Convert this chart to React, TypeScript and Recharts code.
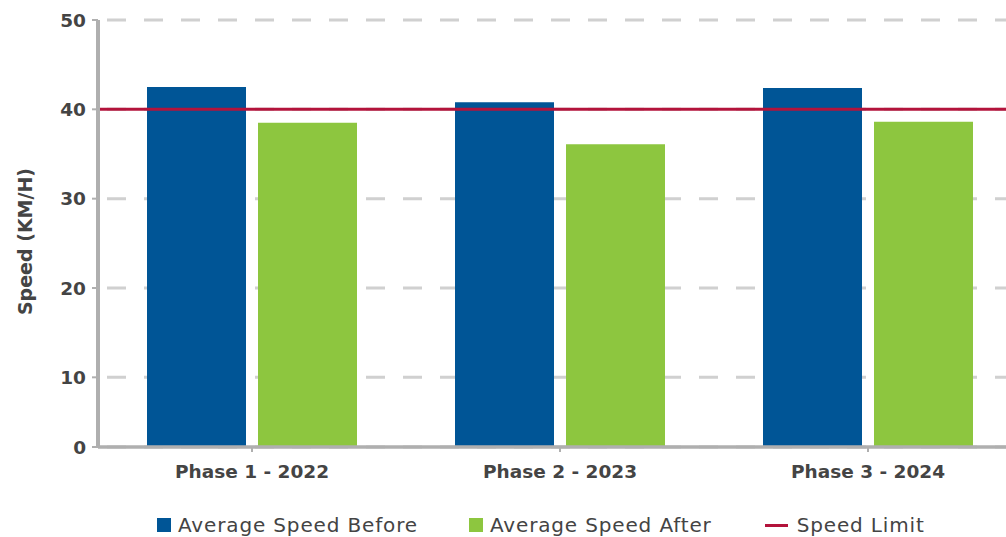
import React from "react";
import { BarChart, Bar, XAxis, YAxis, CartesianGrid, ReferenceLine, Legend } from "recharts";

const categories = ["Phase 1 - 2022", "Phase 2 - 2023", "Phase 3 - 2024"];
const speedBefore = [42.5, 40.8, 42.4];
const speedAfter = [38.5, 36.1, 38.6];
const speedLimit = 40;
const yTickValues = [2.2, 10, 20, 30, 40, 50];
const yTickLabels = ["0", "10", "20", "30", "40", "50"];
const seriesNames = ["Average Speed Before", "Average Speed After", "Speed Limit"];

const BLUE = "#005596";
const GREEN = "#8DC63F";
const RED = "#B3133B";
const TEXT = "#444444";
const FONT = "'DejaVu Sans', sans-serif";

const data = categories.map((c, i) => ({ name: c, before: speedBefore[i], after: speedAfter[i] }));

const LegendContent = () => (
  <div style={{ display: "flex", alignItems: "center", marginLeft: 157, paddingTop: 16, fontFamily: FONT, fontSize: 20, letterSpacing: 0.85, color: TEXT, height: 24 }}>
    <div style={{ display: "flex", alignItems: "center", marginRight: 51 }}>
      <span style={{ width: 14, height: 14, background: BLUE, display: "inline-block", marginRight: 7 }} />
      <span>{seriesNames[0]}</span>
    </div>
    <div style={{ display: "flex", alignItems: "center", marginRight: 53 }}>
      <span style={{ width: 14, height: 14, background: GREEN, display: "inline-block", marginRight: 7 }} />
      <span>{seriesNames[1]}</span>
    </div>
    <div style={{ display: "flex", alignItems: "center" }}>
      <span style={{ width: 23, height: 3, background: RED, display: "inline-block", marginRight: 9 }} />
      <span>{seriesNames[2]}</span>
    </div>
  </div>
);

const YLabel = (props: any) => {
  const vb = props.viewBox || {};
  const cy = (vb.y || 0) + (vb.height || 0) / 2 + 8;
  return (
    <text x={25} y={cy} transform={`rotate(-90, 25, ${cy})`} textAnchor="middle" dominantBaseline="central"
      fontFamily={FONT} fontWeight={700} fontSize={19} fill={TEXT}>
      Speed (KM/H)
    </text>
  );
};

export default function App() {
  return (
    <div style={{ position: "absolute", left: 0, top: 0, width: 1006, height: 537, overflow: "hidden", background: "#fff" }}>
      <BarChart width={1030} height={537} data={data} margin={{ top: 20, right: 8, left: 0, bottom: 0 }} barGap={12}>
        <CartesianGrid vertical={false} stroke="#D0D0D0" strokeWidth={3} strokeDasharray="0 9 19 9" />
        <XAxis dataKey="name" height={50} axisLine={{ stroke: "#AFAFAF", strokeWidth: 3.5 }}
          tickLine={{ stroke: "#AFAFAF", strokeWidth: 2 }} tickSize={5} tickMargin={13}
          tick={{ fill: TEXT, fontFamily: FONT, fontWeight: 700, fontSize: 18.5 }} />
        <YAxis width={98} domain={[yTickValues[0], 50]} ticks={yTickValues} interval={0}
          tickFormatter={(v: number) => yTickLabels[yTickValues.indexOf(v)]}
          axisLine={{ stroke: "#AFAFAF", strokeWidth: 4 }} tickLine={{ stroke: "#AFAFAF", strokeWidth: 2 }}
          tickSize={6} tickMargin={6}
          tick={{ fill: TEXT, fontFamily: FONT, fontWeight: 700, fontSize: 18.5 }}
          label={{ content: YLabel }} />
        <Bar dataKey="before" name={seriesNames[0]} fill={BLUE} barSize={99} isAnimationActive={false} />
        <Bar dataKey="after" name={seriesNames[1]} fill={GREEN} barSize={99} isAnimationActive={false} />
        <ReferenceLine y={speedLimit} stroke={RED} strokeWidth={3} />
        <Legend verticalAlign="bottom" height={40} content={<LegendContent />} wrapperStyle={{ left: 0 }} />
      </BarChart>
    </div>
  );
}
